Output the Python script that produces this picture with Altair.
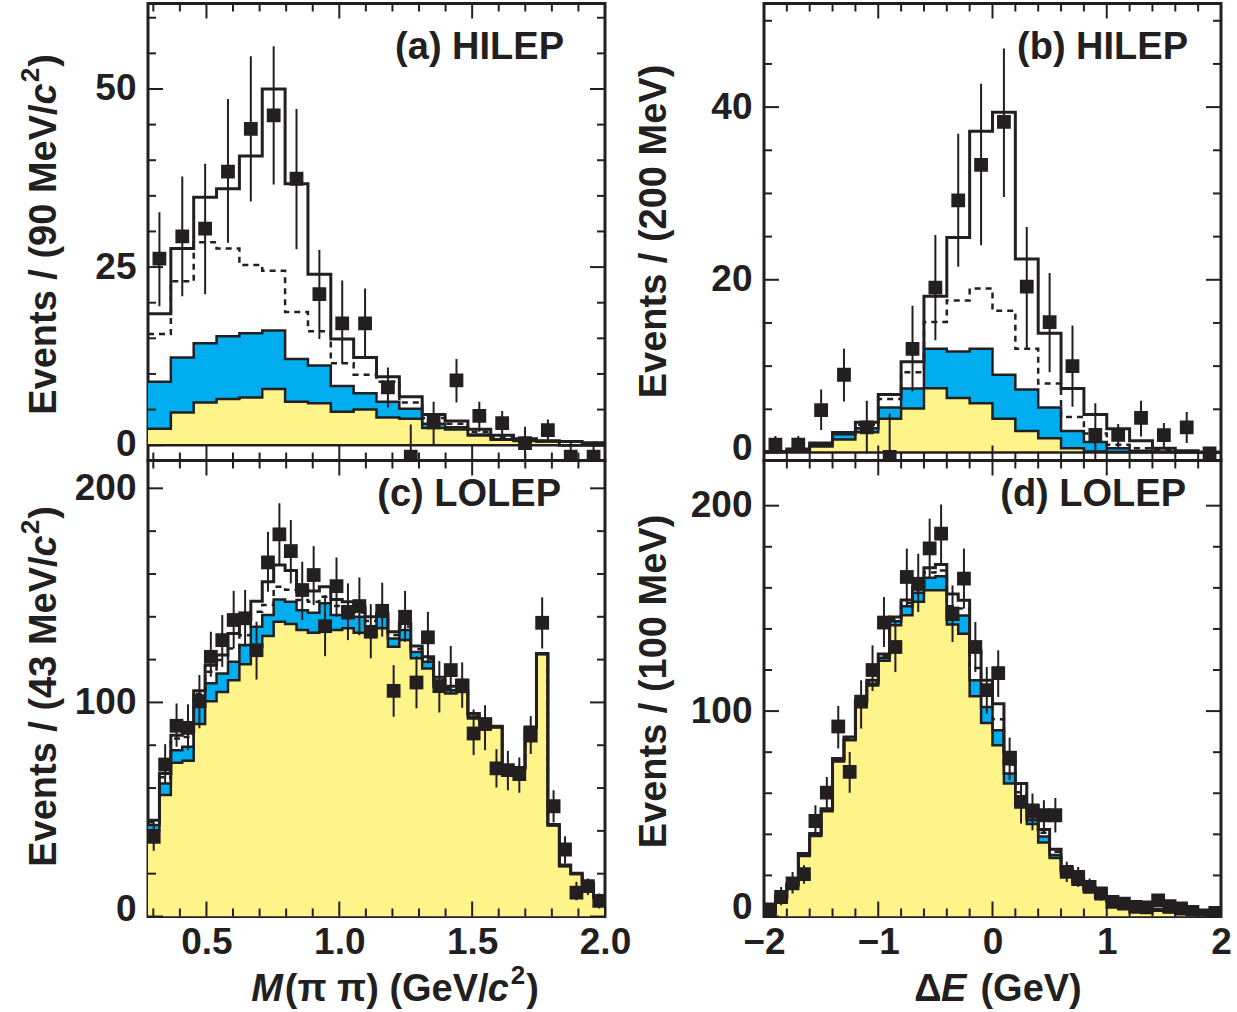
import altair as alt
import numpy as np
import pandas as pd

# ---------------- panel (a): HILEP, M(pi pi), 20 bins ----------------
A_RANGE = [0.28, 2.0]
A_YDOM = [-2.15, 62.0]
A_YELLOW = [2.3, 4.6, 6.0, 6.5, 6.7, 7.9, 6.1, 5.9, 4.7, 5.0, 3.9, 3.7, 2.4, 2.2, 1.35, 0.78, 0.6, 0.5, 0.0, 0.0]
A_BLUE = [8.9, 12.3, 14.3, 15.3, 15.7, 16.1, 12.1, 11.2, 8.3, 7.3, 6.1, 5.1, 3.0, 2.5, 1.5, 0.85, 0.7, 0.55, 0.0, 0.0]
A_DASH = [15.6, 23.0, 28.5, 27.6, 25.3, 24.5, 18.7, 16.0, 11.5, 9.9, 8.9, 6.0, 3.8, 3.0, 1.9, 1.2, 0.8, 0.58, 0.48, 0.3]
A_TOTAL = [18.45, 27.6, 34.8, 36.0, 40.6, 50.0, 36.7, 24.0, 14.9, 12.3, 9.6, 6.8, 4.3, 3.4, 2.25, 1.4, 0.9, 0.62, 0.52, 0.33]
A_DATA = [26.2, 29.3, 30.4, 38.4, 44.4, 46.3, 37.4, 21.2, 17.1, 17.1, 8.1, -1.6, 3.2, 9.1, 4.1, 3.1, 0.3, 2.1, -1.6, -1.6]
A_LO = [19.5, 20.9, 21.2, 28.4, 34.2, 36.6, 27.5, 14.9, 11.4, 12.3, 5.3, -3.0, 0.06, 6.0, 1.9, 1.2, -1.8, 0.6, -3.0, -3.0]
A_HI = [32.7, 37.7, 39.5, 48.6, 54.6, 56.0, 47.2, 27.4, 23.1, 22.0, 10.9, 2.9, 6.1, 12.1, 6.1, 4.8, 2.6, 3.6, 0.3, 0.1]

# ---------------- panel (b): HILEP, Delta E, 20 bins ----------------
B_RANGE = [-2.0, 2.0]
B_YDOM = [-0.93, 52.0]
B_YELLOW = [0.05, 0.1, 0.7, 1.5, 2.35, 3.9, 5.1, 7.45, 6.3, 5.7, 3.9, 2.5, 1.65, 0.5, 0.1, 0.05, 0.03, 0.02, 0.0, 0.0]
B_BLUE = [0.05, 0.2, 0.9, 2.1, 2.8, 5.2, 7.4, 12.0, 11.7, 12.0, 9.0, 7.3, 5.2, 2.5, 1.2, 0.5, 0.2, 0.1, 0.05, 0.02]
B_DASH = [0.08, 0.3, 1.0, 2.2, 3.2, 6.2, 9.3, 15.1, 17.6, 19.0, 16.4, 12.0, 8.0, 4.1, 2.2, 0.9, 0.5, 0.3, 0.1, 0.03]
B_TOTAL = [0.1, 0.4, 1.1, 2.3, 3.5, 6.7, 10.5, 18.1, 24.9, 37.2, 39.4, 22.4, 13.8, 7.4, 4.4, 2.75, 1.35, 0.5, 0.2, 0.05]
B_DATA = [0.9, 0.9, 4.9, 9.0, 2.9, -0.5, 12.0, 19.1, 29.2, 33.3, 38.3, 19.2, 15.1, 10.0, 2.05, 2.05, 4.0, 2.0, 2.9, -0.1]
B_LO = [-0.1, -0.1, 2.6, 5.9, -0.1, -1.0, 7.1, 13.0, 21.5, 24.0, 29.6, 12.1, 9.3, 5.3, -0.8, 0.5, 1.85, 0.5, 1.1, -0.5]
B_HI = [1.9, 1.9, 7.3, 12.0, 6.0, 4.5, 17.0, 25.2, 36.9, 42.7, 46.8, 26.1, 20.8, 14.7, 5.7, 3.3, 6.0, 3.4, 4.7, 0.3]

# ---------------- panel (c): LOLEP, M(pi pi), 40 bins ----------------
C_RANGE = [0.28, 2.0]
C_YDOM = [0.0, 213.0]
C_YELLOW = [40.3, 56.7, 71.8, 72.7, 89.9, 100.6, 104.9, 110.4, 117.8, 126.0, 131.0, 137.7, 136.6, 133.8, 132.5, 133.0, 133.8, 134.6, 132.5, 131.0,
            134.6, 126.0, 129.1, 120.6, 115.8, 107.3, 104.2, 104.9, 92.5, 91.4, 88.3, 69.0, 69.0, 88.0, 122.5, 42.5, 23.5, 19.8, 15.0, 8.8]
C_BLUE = [42.7, 62.1, 77.7, 79.3, 97.9, 108.9, 113.5, 119.0, 126.8, 135.3, 140.8, 148.1, 147.0, 143.1, 141.9, 146.3, 140.8, 139.3, 140.0, 135.6,
          140.0, 129.9, 133.8, 123.6, 119.0, 108.9, 105.7, 105.9, 93.3, 91.8, 88.5, 69.2, 69.2, 88.2, 122.6, 42.6, 23.6, 19.9, 15.1, 8.9]
C_DASH = [44.0, 65.0, 83.2, 83.9, 103.9, 114.3, 119.8, 125.2, 131.4, 142.3, 145.5, 154.0, 152.6, 147.8, 147.0, 149.4, 145.0, 143.1, 142.0, 138.0,
          140.5, 131.5, 135.5, 125.0, 120.2, 110.5, 106.8, 108.5, 94.0, 92.0, 88.7, 69.4, 69.4, 88.4, 122.8, 42.8, 23.8, 20.0, 15.3, 9.0]
C_TOTAL = [45.0, 66.8, 84.7, 86.3, 105.4, 117.4, 122.1, 132.2, 138.5, 147.3, 156.4, 164.2, 161.6, 152.5, 152.0, 154.0, 148.1, 147.0, 144.4, 140.0,
           141.5, 133.0, 136.9, 126.3, 121.3, 111.7, 107.6, 110.4, 94.8, 92.1, 88.9, 69.6, 69.6, 88.5, 122.9, 43.0, 24.0, 20.2, 15.4, 9.2]
C_DATA = [37.2, 71.0, 89.1, 88.1, 100.6, 121.3, 129.1, 138.5, 139.3, 124.4, 165.4, 178.5, 170.7, 152.5, 159.5, 135.6, 154.3, 142.3, 145.0, 133.0,
          142.8, 105.4, 140.0, 109.3, 130.4, 107.6, 115.1, 107.9, 85.5, 89.9, 69.2, 68.4, 66.5, 84.5, 137.2, 51.5, 31.3, 11.2, 14.2, 7.3]
C_HI = [44.2, 80.5, 99.5, 99.1, 112.8, 133.0, 140.8, 152.1, 152.5, 137.7, 179.7, 193.0, 185.2, 165.7, 173.0, 150.1, 167.7, 155.6, 158.4, 145.9,
        155.9, 117.4, 152.1, 121.6, 142.3, 119.3, 126.4, 118.7, 96.7, 98.7, 78.2, 77.4, 74.3, 93.6, 149.1, 59.0, 37.5, 16.2, 17.8, 10.7]
C_LO = [30.7, 62.1, 79.3, 77.7, 87.9, 112.0, 116.6, 125.2, 126.0, 110.7, 151.7, 164.2, 155.6, 138.5, 145.5, 121.6, 140.0, 129.1, 131.4, 120.6,
        130.7, 93.3, 128.3, 97.2, 118.2, 95.3, 104.2, 97.5, 75.4, 77.7, 60.3, 59.0, 57.8, 75.9, 125.2, 43.9, 24.8, 7.6, 10.0, 3.7]

# ---------------- panel (d): LOLEP, Delta E, 40 bins ----------------
D_RANGE = [-2.0, 2.0]
D_YDOM = [0.0, 222.0]
D_YELLOW = [1.5, 8.5, 15.0, 29.5, 39.2, 51.3, 75.5, 85.8, 103.3, 112.5, 124.5, 141.8, 146.7, 153.2, 158.8, 158.8, 142.2, 137.7, 107.2, 94.2,
            83.4, 64.7, 54.0, 45.0, 36.0, 28.5, 20.5, 15.5, 12.5, 9.0, 7.0, 5.5, 4.5, 3.5, 2.8, 2.0, 1.5, 1.0, 0.7, 0.5]
D_BLUE = [1.8, 8.8, 15.3, 29.8, 39.5, 51.6, 75.8, 86.1, 103.8, 113.3, 126.0, 143.8, 151.1, 157.6, 164.9, 165.6, 144.5, 146.6, 115.0, 102.0,
          90.7, 69.6, 57.0, 47.0, 39.0, 30.0, 21.5, 16.5, 13.0, 9.4, 7.3, 5.8, 4.7, 3.7, 3.0, 2.2, 1.6, 1.1, 0.8, 0.6]
D_DASH = [2.4, 9.2, 15.6, 30.2, 40.0, 52.0, 76.3, 86.8, 104.6, 114.2, 126.8, 144.8, 152.6, 158.9, 167.5, 168.5, 151.0, 150.0, 121.0, 108.0,
          96.0, 74.0, 60.5, 50.5, 40.8, 31.5, 22.3, 17.1, 13.5, 9.7, 7.6, 6.1, 5.0, 4.0, 3.2, 2.4, 1.8, 1.3, 0.9, 0.65]
D_TOTAL = [3.0, 10.0, 16.0, 30.7, 40.4, 52.5, 76.9, 87.4, 105.3, 115.0, 127.8, 145.8, 154.1, 160.4, 169.8, 171.4, 157.0, 154.0, 129.0, 115.0,
           103.6, 80.0, 64.7, 54.3, 42.4, 32.7, 23.0, 17.7, 14.0, 10.0, 8.0, 6.5, 5.3, 4.3, 3.5, 2.7, 2.0, 1.5, 1.1, 0.8]
D_DATA = [3.5, 9.5, 16.1, 20.6, 46.5, 60.3, 92.5, 70.4, 104.6, 120.0, 143.1, 131.2, 165.3, 162.0, 179.2, 186.4, 147.5, 164.5, 131.2, 110.2,
          118.5, 76.9, 55.8, 50.9, 49.3, 49.3, 21.7, 19.3, 14.4, 11.2, 7.1, 6.3, 4.7, 4.4, 7.9, 5.0, 3.9, 2.2, 0.6, 1.8]
D_HI = [6.5, 14.4, 21.7, 25.0, 54.2, 67.9, 102.5, 80.1, 115.0, 132.0, 155.5, 143.4, 179.1, 176.6, 193.7, 200.6, 161.2, 179.1, 143.4, 121.5,
        129.6, 87.1, 64.7, 59.9, 56.6, 57.7, 26.6, 24.1, 18.5, 14.4, 10.0, 9.0, 7.0, 6.5, 11.0, 7.8, 6.0, 4.0, 2.0, 3.5]
D_LO = [1.5, 5.5, 11.2, 16.0, 38.7, 52.6, 81.8, 60.2, 91.5, 109.8, 131.2, 119.0, 151.5, 148.2, 165.3, 171.8, 133.6, 149.9, 119.0, 98.8,
        106.9, 66.3, 45.3, 42.0, 40.4, 40.9, 16.8, 14.4, 11.2, 7.8, 4.5, 3.8, 2.5, 2.2, 5.0, 2.5, 1.8, 0.5, -0.5, 0.5]

# ---------------- ticks & labels ----------------
M_XMAJ = [0.5, 1.0, 1.5, 2.0]
M_XMIN = [0.3, 0.4, 0.6, 0.7, 0.8, 0.9, 1.1, 1.2, 1.3, 1.4, 1.6, 1.7, 1.8, 1.9]
E_XMAJ = [-2, -1, 0, 1, 2]
E_XMIN = [-1.8, -1.6, -1.4, -1.2, -0.8, -0.6, -0.4, -0.2, 0.2, 0.4, 0.6, 0.8, 1.2, 1.4, 1.6, 1.8]
A_YMAJ = [0, 25, 50]
A_YMIN = [5, 10, 15, 20, 30, 35, 40, 45, 55, 60]
B_YMAJ = [0, 20, 40]
B_YMIN = [5, 10, 15, 25, 30, 35, 45, 50]
L_YMAJ = [0, 100, 200]
L_YMIN = [20, 40, 60, 80, 120, 140, 160, 180]

LABELS = ["(a) HILEP", "(b) HILEP", "(c) LOLEP", "(d) LOLEP"]
# axis titles as runs of (text, italic, font size, superscript lift, extra gap after in px)
YTITLE_A = [("Events / (90 MeV/", False, 38, 0, 0), ("c", True, 38, 0, 1), ("2", False, 26, 17, 1), (")", False, 38, 0, 0)]
YTITLE_B = [("Events / (200 MeV)", False, 38, 0, 0)]
YTITLE_C = [("Events / (43 MeV/", False, 38, 0, 0), ("c", True, 38, 0, 1), ("2", False, 26, 17, 1), (")", False, 38, 0, 0)]
YTITLE_D = [("Events / (100 MeV)", False, 38, 0, 0)]
XTITLE_M = [("M", True, 38, 0, 2), ("(π π) (GeV/", False, 38, 0, 7), ("c", True, 38, 0, 2), ("2", False, 26, 17, 1), (")", False, 38, 0, 0)]
XTITLE_E = [("Δ", False, 38, 0, 1), ("E", True, 38, 0, 14), ("(GeV)", False, 38, 0, 0)]

FONT = "Liberation Sans"
INK = "#231f20"
YELLOW = "#fff48a"
BLUE = "#00aeef"
FS = 37

# advance widths (em) of Liberation Sans Bold, used to chain the title runs
ADV = {" ": 0.278, "/": 0.278, "(": 0.333, ")": 0.333, "E": 0.667, "v": 0.556, "e": 0.556, "n": 0.611,
       "t": 0.333, "s": 0.556, "M": 0.833, "V": 0.667, "G": 0.778, "c": 0.556, "π": 0.66, "Δ": 0.68}


def run_width(text, size):
    return sum(ADV.get(ch, 0.556) for ch in text) * size


def title_runs(runs, center, base, vertical):
    total = sum(run_width(t, s) + g for t, _, s, _, g in runs)
    pos = center - total / 2 if not vertical else center + total / 2
    out = []
    for text, ital, size, lift, gap in runs:
        mk = dict(font=FONT, fontSize=size, fontWeight="bold", fontStyle="italic" if ital else "normal",
                  align="left", baseline="alphabetic", color=INK)
        step = run_width(text, size) + gap
        if vertical:
            mk["angle"] = 270
            enc = dict(x=alt.value(base - lift), y=alt.value(pos))
            pos -= step
        else:
            enc = dict(x=alt.value(pos), y=alt.value(base - lift))
            pos += step
        out.append(alt.Chart(pd.DataFrame({"t": [text]})).mark_text(**mk).encode(text="t:N", **enc))
    return out


def edge_table(rng, Y, B, D, S):
    n = len(Y)
    edges = np.linspace(rng[0], rng[1], n + 1)
    idx = list(range(n)) + [n - 1]
    return pd.DataFrame({
        "x": edges,
        "Y": [Y[i] for i in idx],
        "B": [B[i] for i in idx],
        "D": [D[i] for i in idx],
        "S": [S[i] for i in idx],
    })


def point_table(rng, v, lo, hi):
    n = len(v)
    w = (rng[1] - rng[0]) / n
    return pd.DataFrame({"xc": rng[0] + w * (np.arange(n) + 0.5), "v": v, "lo": lo, "hi": hi})


def panel(rng, ydom, W, H, hist, pts, xmaj, xmin_, ymaj, ymin_, label, lab_right, lab_y,
          ytitle, ytx, yty, zero_lift, xaxis_info=None, zero_line=False):
    xs = alt.Scale(domain=rng, nice=False, zero=False)
    ys = alt.Scale(domain=ydom, nice=False, zero=False)
    yaxis = alt.Axis(values=ymaj, ticks=False, tickSize=0, domain=False, grid=False,
                     labelFont=FONT, labelFontSize=FS, labelFontWeight="bold", labelColor=INK,
                     labelPadding=12, labelOverlap=False, labelFlush=False,
                     labelOffset={"condition": {"test": "datum.value == 0", "value": zero_lift}, "value": 0},
                     title=None)
    if xaxis_info is None:
        xaxis = None
    else:
        xtitle, fmt, ttx, tty = xaxis_info
        xaxis = alt.Axis(values=xmaj, format=fmt, ticks=False, tickSize=0, domain=False, grid=False,
                         labelFont=FONT, labelFontSize=FS, labelFontWeight="bold", labelColor=INK,
                         labelPadding=8, labelOverlap=False, labelFlush=False, title=None)

    # every layer carries the same axis definition, so the shared axes merge cleanly
    X = lambda f: alt.X(f, scale=xs, axis=xaxis)
    Yc = lambda f: alt.Y(f, scale=ys, axis=yaxis)

    base = alt.Chart(hist)
    layers = [
        base.mark_area(interpolate="step-after", color=YELLOW, clip=True).encode(
            x=X("x:Q"), y=Yc("Y:Q"), y2=alt.datum(0)),
        base.mark_area(interpolate="step-after", color=BLUE, clip=True).encode(
            x=X("x:Q"), y=Yc("B:Q"), y2="Y:Q"),
        base.mark_line(interpolate="step-after", color=INK, strokeWidth=2.5, clip=True).encode(
            x=X("x:Q"), y=Yc("Y:Q")),
        base.mark_line(interpolate="step-after", color=INK, strokeWidth=2.5, clip=True).encode(
            x=X("x:Q"), y=Yc("B:Q")),
        base.mark_line(interpolate="step-after", color=INK, strokeWidth=2.5, strokeDash=[6, 5], clip=True).encode(
            x=X("x:Q"), y=Yc("D:Q")),
        base.mark_line(interpolate="step-after", color=INK, strokeWidth=3, clip=True).encode(
            x=X("x:Q"), y=Yc("S:Q")),
    ]
    if zero_line:
        layers.append(alt.Chart(pd.DataFrame({"z": [0]})).mark_rule(color=INK, strokeWidth=2.5).encode(
            y=Yc("z:Q")))
    p = alt.Chart(pts)
    layers += [
        p.mark_rule(color=INK, strokeWidth=2, clip=True).encode(x=X("xc:Q"), y=Yc("lo:Q"), y2="hi:Q"),
        p.mark_square(size=190, color=INK, opacity=1, clip=True).encode(x=X("xc:Q"), y=Yc("v:Q")),
    ]
    for vals, ln in ((xmaj, 15), (xmin_, 8)):
        t = alt.Chart(pd.DataFrame({"t": vals}))
        layers.append(t.mark_rule(color=INK, strokeWidth=2).encode(
            x=X("t:Q"), y=alt.value(H), y2=alt.value(H - ln)))
        layers.append(t.mark_rule(color=INK, strokeWidth=2).encode(
            x=X("t:Q"), y=alt.value(0), y2=alt.value(ln)))
    for vals, ln in ((ymaj, 15), (ymin_, 8)):
        t = alt.Chart(pd.DataFrame({"t": vals}))
        layers.append(t.mark_rule(color=INK, strokeWidth=2).encode(
            y=Yc("t:Q"), x=alt.value(0), x2=alt.value(ln)))
        layers.append(t.mark_rule(color=INK, strokeWidth=2).encode(
            y=Yc("t:Q"), x=alt.value(W), x2=alt.value(W - ln)))
    layers.append(alt.Chart(pd.DataFrame({"t": [label]})).mark_text(
        font=FONT, fontSize=38, fontWeight="bold", align="right", baseline="middle", color=INK).encode(
        text="t:N", x=alt.value(W - lab_right), y=alt.value(lab_y)))
    layers += title_runs(ytitle, yty, ytx, vertical=True)
    if xaxis_info is not None:
        layers += title_runs(xtitle, ttx, H + tty, vertical=False)
    return alt.layer(*layers).properties(width=W, height=H)


pa = panel(A_RANGE, A_YDOM, 457, 457,
           edge_table(A_RANGE, A_YELLOW, A_BLUE, A_DASH, A_TOTAL),
           point_table(A_RANGE, A_DATA, A_LO, A_HI),
           M_XMAJ, M_XMIN, A_YMAJ, A_YMIN, LABELS[0], 41, 44, YTITLE_A, -92, 231, -1, zero_line=True)
pc = panel(C_RANGE, C_YDOM, 457, 456,
           edge_table(C_RANGE, C_YELLOW, C_BLUE, C_DASH, C_TOTAL),
           point_table(C_RANGE, C_DATA, C_LO, C_HI),
           M_XMAJ, M_XMIN, L_YMAJ, L_YMIN, LABELS[2], 44, 34, YTITLE_C, -92, 226, -7,
           xaxis_info=(XTITLE_M, ".1f", 247, 84))
pb = panel(B_RANGE, B_YDOM, 457, 457,
           edge_table(B_RANGE, B_YELLOW, B_BLUE, B_DASH, B_TOTAL),
           point_table(B_RANGE, B_DATA, B_LO, B_HI),
           E_XMAJ, E_XMIN, B_YMAJ, B_YMIN, LABELS[1], 33, 44, YTITLE_B, -98, 228, -4, zero_line=True)
pd_ = panel(D_RANGE, D_YDOM, 457, 456,
            edge_table(D_RANGE, D_YELLOW, D_BLUE, D_DASH, D_TOTAL),
            point_table(D_RANGE, D_DATA, D_LO, D_HI),
            E_XMAJ, E_XMIN, L_YMAJ, L_YMIN, LABELS[3], 35, 34, YTITLE_D, -98, 221, -9,
            xaxis_info=(XTITLE_E, "d", 234, 84))

chart = alt.concat(pa, pb, pc, pd_, columns=2, bounds="flush",
                   spacing={"row": 0, "column": 159}).properties(
    padding={"left": 16, "top": 0.5, "right": 0, "bottom": 0}
).configure(background="white").configure_view(stroke=INK, strokeWidth=3)

chart.save("out.html", embed_options={"renderer": "svg", "actions": False})
